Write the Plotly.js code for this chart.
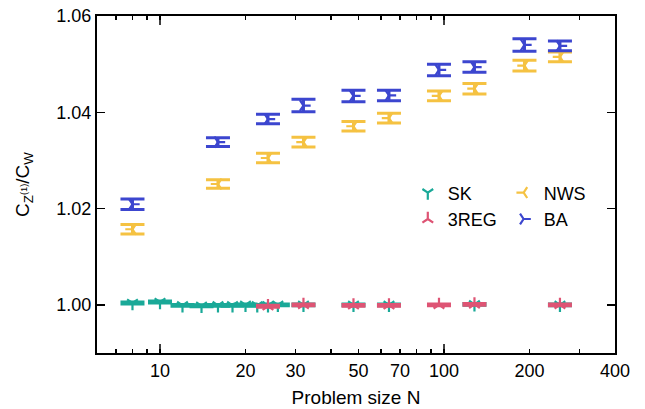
<!DOCTYPE html>
<html><head><meta charset="utf-8">
<script src="https://cdn.plot.ly/plotly-3.0.1.min.js"></script>
<style>body{margin:0;background:#fff}#plot{width:645px;height:409px}</style>
</head><body><div id="plot"></div>
<script>
// SK
const skN   = [8, 10, 12, 14, 16, 18, 20, 22, 24, 26, 32, 48, 64, 128, 256];
const skC   = [1.0004, 1.0006, 0.9999, 0.9998, 0.9999, 0.9999, 1.0000, 0.9999, 0.9999, 1.0000, 1.0000, 1.0000, 1.0000, 1.0001, 1.0000];
const skE   = [0.0002, 0.0002, 0.0002, 0.0002, 0.0002, 0.0002, 0.0002, 0.0002, 0.0002, 0.0002, 0.0002, 0.0002, 0.0002, 0.0002, 0.0002];
// 3REG
const regN  = [24, 32, 48, 64, 96, 128, 256];
const regC  = [0.9997, 1.0000, 0.9999, 0.9999, 1.0000, 1.0001, 1.0000];
const regE  = [0.0002, 0.0002, 0.0002, 0.0002, 0.0002, 0.0002, 0.0002];
// NWS
const nwsN  = [8, 16, 24, 32, 48, 64, 96, 128, 192, 256];
const nwsC  = [1.0157, 1.0251, 1.0305, 1.0338, 1.0371, 1.0388, 1.0434, 1.0449, 1.0497, 1.0515];
const nwsE  = [0.0010, 0.0009, 0.0010, 0.0010, 0.0010, 0.0010, 0.0010, 0.0011, 0.0011, 0.0010];
// BA
const baN   = [8, 16, 24, 32, 48, 64, 96, 128, 192, 256];
const baC   = [1.0209, 1.0338, 1.0386, 1.0414, 1.0434, 1.0435, 1.0488, 1.0494, 1.0540, 1.0538];
const baE   = [0.0011, 0.0009, 0.0010, 0.0013, 0.0012, 0.0011, 0.0012, 0.0011, 0.0013, 0.0010];

const xTickVals = [10, 20, 30, 50, 70, 100, 200, 400];
const xMinorVals = [7, 8, 9, 20, 30, 40, 50, 60, 70, 80, 90, 200, 300];
const xLongTicks = [10, 100];
const yTickVals = [1.00, 1.02, 1.04, 1.06];

const colors = {SK:'#1aa998', REG:'#de5474', NWS:'#f5c242', BA:'#3c46cf'};

function tr(name, x, y, e, col, sym, leg){
  return {
    type:'scatter', mode:'markers', name:name, x:x, y:y, legend:leg,
    marker:{symbol:sym, size:9, color:col, line:{color:col, width:2.2}},
    error_y:{type:'data', array:e, visible:true, color:col, thickness:3, width:12},
    cliponaxis:false
  };
}
const data = [
  tr('SK', skN, skC, skE, colors.SK, 'y-down', 'legend'),
  tr('3REG', regN, regC, regE, colors.REG, 'y-up', 'legend'),
  tr('NWS', nwsN, nwsC, nwsE, colors.NWS, 'y-left', 'legend2'),
  tr('BA', baN, baC, baE, colors.BA, 'y-right', 'legend2')
];

const shapes = [];
xLongTicks.forEach(v => {
  shapes.push({type:'line', xref:'x', yref:'paper', x0:v, x1:v, y0:0, y1:0.027, line:{color:'#000', width:1.5}});
  shapes.push({type:'line', xref:'x', yref:'paper', x0:v, x1:v, y0:1, y1:0.973, line:{color:'#000', width:1.5}});
});

const font = {family:'Liberation Sans, Arial, Helvetica, sans-serif', size:19, color:'#000'};
const layout = {
  width:645, height:409,
  margin:{l:97, r:30, t:16, b:56},
  paper_bgcolor:'#fff', plot_bgcolor:'#fff',
  font:font,
  showlegend:true,
  xaxis:{
    type:'log', range:[Math.log10(6), Math.log10(400)],
    tickmode:'array', tickvals:xTickVals, ticktext:xTickVals.map(String),
    ticks:'inside', ticklen:4, tickwidth:1.5, tickcolor:'#000',
    minor:{tickmode:'array', tickvals:xMinorVals, ticks:'inside', ticklen:4, tickwidth:1.5, tickcolor:'#000'},
    showline:true, linecolor:'#000', linewidth:2, mirror:'ticks',
    showgrid:false, zeroline:false,
    title:{text:'Problem size N', font:{size:19}, standoff:11},
    tickfont:{size:18}
  },
  yaxis:{
    range:[0.99, 1.06], tickmode:'array', tickvals:yTickVals, tickformat:'.2f',
    ticks:'inside', ticklen:8, tickwidth:1.5, tickcolor:'#000',
    showline:true, linecolor:'#000', linewidth:2, mirror:'ticks',
    showgrid:false, zeroline:false,
    title:{text:'C<sub>Z<sup>(1)</sup></sub>/C<sub>W</sub>', font:{size:19}, standoff:22},
    tickfont:{size:18}
  },
  legend:{x:0.6, y:0.53, xanchor:'left', yanchor:'top', bgcolor:'rgba(0,0,0,0)', font:{size:18}, tracegroupgap:0},
  legend2:{x:0.785, y:0.53, xanchor:'left', yanchor:'top', bgcolor:'rgba(0,0,0,0)', font:{size:18}, tracegroupgap:0},
  shapes:shapes
};
Plotly.newPlot('plot', data, layout, {staticPlot:true});
</script></body></html>
